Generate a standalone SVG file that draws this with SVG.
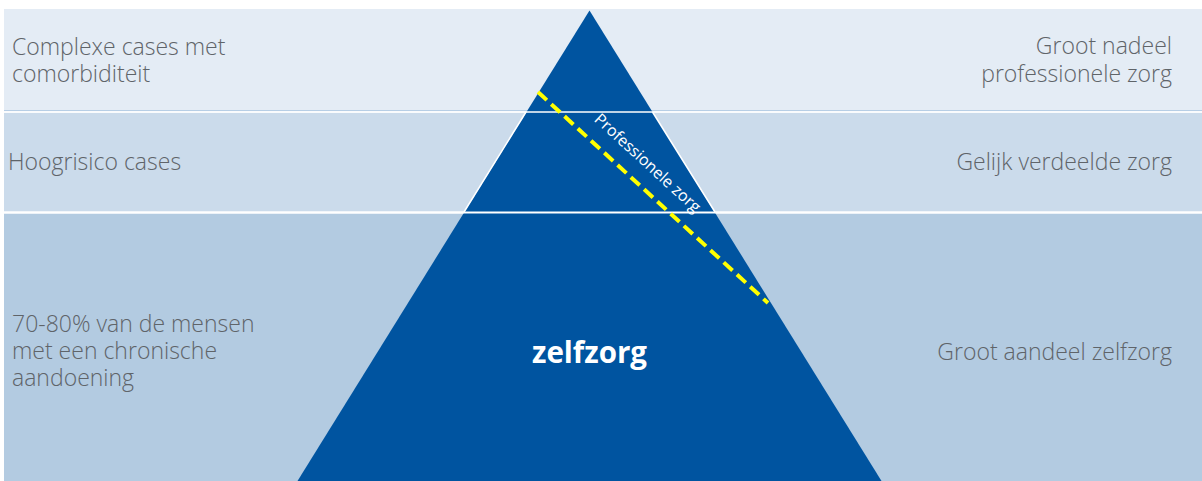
<svg xmlns="http://www.w3.org/2000/svg" width="1202" height="481" viewBox="0 0 1202 481">
<style>
.lbl{font-family:"Open Sans","Liberation Sans",sans-serif;font-weight:300;font-size:23px;fill:#5f6469}
.r{text-anchor:end}
</style>
<rect width="1202" height="481" fill="#ffffff"/>
<g id="bands">
<rect x="4" y="9" width="1198" height="101" fill="#e4ecf5"/>
<rect x="4" y="110" width="1198" height="1.3" fill="#b7cee5"/>
<rect x="4" y="112.5" width="1198" height="99" fill="#cbdbeb"/>
<rect x="4" y="213.5" width="1198" height="268" fill="#b3cbe1"/>
</g>
<g id="pyramid">
<polygon points="589.5,10.5 297.5,481 881.5,481" fill="#0054a0"/>
<polyline points="526,112 464,212" fill="none" stroke="#ffffff" stroke-width="1.5"/>
<polyline points="652.5,112 715,212" fill="none" stroke="#ffffff" stroke-width="1.5"/>
<line x1="4" y1="112" x2="1202" y2="112" stroke="#ffffff" stroke-width="1.5"/>
<line x1="4" y1="212.5" x2="1202" y2="212.5" stroke="#ffffff" stroke-width="1.8"/>
</g>
<g id="connectors">
<line x1="538" y1="92" x2="768" y2="303" stroke="#ffff00" stroke-width="4" stroke-dasharray="12,6"/>
</g>
<g id="label-prof">
<text transform="translate(644,167) rotate(42.5)" text-anchor="middle" font-family="'Open Sans','Liberation Sans',sans-serif" font-size="16" fill="#ffffff">Professionele zorg</text>
</g>
<g id="label-zelfzorg">
<text x="589.5" y="363" text-anchor="middle" font-family="'Open Sans','Liberation Sans',sans-serif" font-weight="700" font-size="29.5" fill="#ffffff">zelfzorg</text>
</g>
<g id="left-labels">
<text class="lbl" x="12" y="55">Complexe cases met</text>
<text class="lbl" x="12" y="82">comorbiditeit</text>
<text class="lbl" x="8" y="170">Hoogrisico cases</text>
<text class="lbl" x="12" y="332">70-80% van de mensen</text>
<text class="lbl" x="12" y="359">met een chronische</text>
<text class="lbl" x="12" y="386">aandoening</text>
</g>
<g id="right-labels">
<text class="lbl r" x="1172" y="54">Groot nadeel</text>
<text class="lbl r" x="1172" y="82">professionele zorg</text>
<text class="lbl r" x="1172" y="170">Gelijk verdeelde zorg</text>
<text class="lbl r" x="1172" y="360">Groot aandeel zelfzorg</text>
</g>
</svg>
